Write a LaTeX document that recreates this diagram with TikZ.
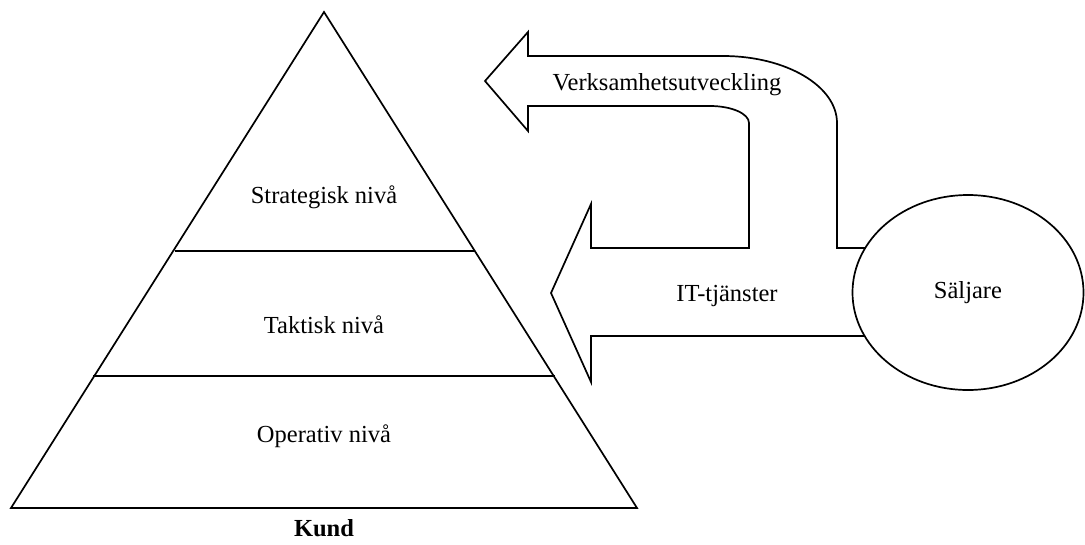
\documentclass[tikz,border=0pt]{standalone}
\usepackage{fontspec}
\setmainfont{Liberation Serif}
\usetikzlibrary{shapes.geometric}
\begin{document}
\begin{tikzpicture}[x=1pt,y=-1pt,
  outline/.style={draw=black,line width=1.7pt,line join=miter},
  lbl/.style={font=\fontsize{24.5}{28}\selectfont,inner sep=0pt,anchor=center}]
\useasboundingbox (0,0) rectangle (1085,544);

% pyramid with its three levels
\draw[outline] (324,12) -- (637,508) -- (11,508) -- cycle;
\draw[outline] (175,251) -- (475,251);
\draw[outline] (93,376) -- (555,376);
\node[lbl] (strat) at (324,197) {Strategisk nivå};
\node[lbl] (takt)  at (324,325) {Taktisk nivå};
\node[lbl] (oper)  at (324,436) {Operativ nivå};
\node[lbl,font=\fontsize{24.5}{28}\selectfont\bfseries] (kund) at (324,528) {Kund};

% seller
\node[outline,ellipse,minimum width=231pt,minimum height=195pt,inner sep=0pt]
  (saljare) at (968,292.5) {};
\node[lbl] (saljtxt) at (saljare.center) {Säljare};

% combined block arrows leaving the seller
\draw[outline]
  (865,248) -- (837,248) -- (837,123)
  .. controls (837,86) and (786,56) .. (723,56)
  -- (528,56) -- (528,32) -- (485,81) -- (528,131) -- (528,106)
  -- (710,106)
  .. controls (731.5,106) and (749,113.6) .. (749,123)
  -- (749,248) -- (591,248) -- (591,204) -- (551,293) -- (591,382)
  -- (591,336) -- (865,336);
\node[lbl] (verks) at (667,85) {Verksamhetsutveckling};
\node[lbl] (ittj)  at (727,296) {IT-tjänster};
\end{tikzpicture}
\end{document}
